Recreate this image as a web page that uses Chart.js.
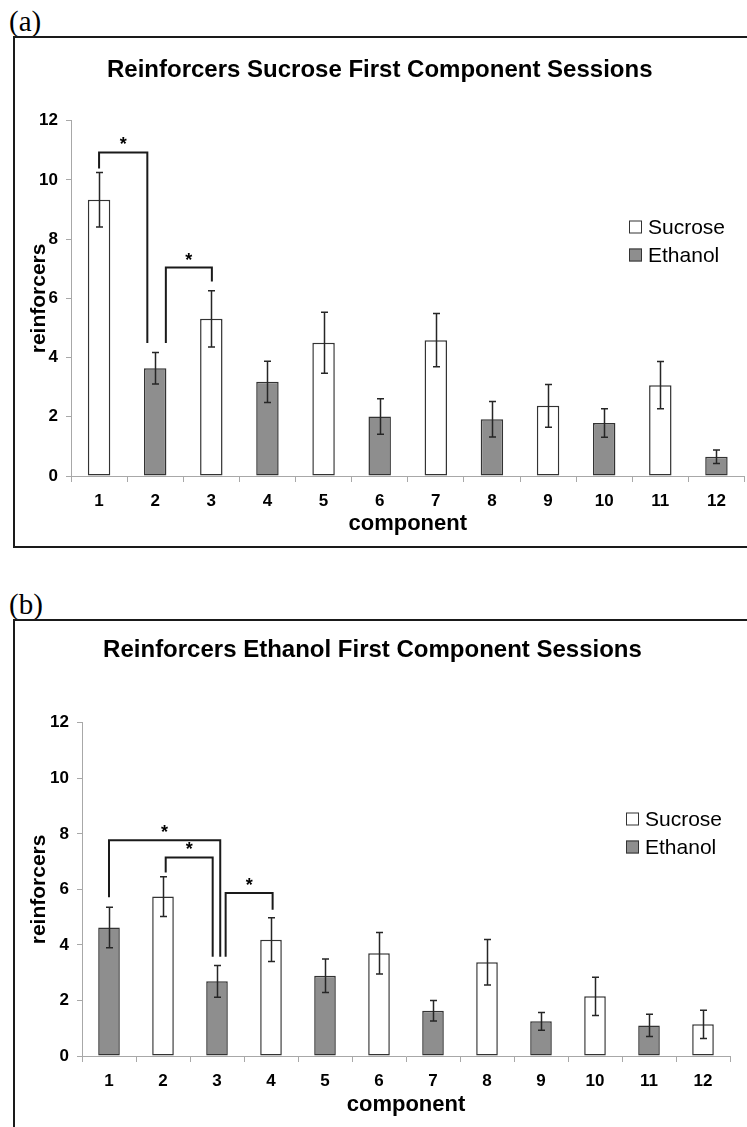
<!DOCTYPE html>
<html>
<head>
<meta charset="utf-8">
<script src="https://cdn.jsdelivr.net/npm/chart.js@4.4.0/dist/chart.umd.min.js"></script>
<style>
  body { margin: 0; background: #fff; width: 747px; height: 1127px; overflow: hidden; position: relative; }
  .tag { position: absolute; left: 9px; font-family: "Liberation Serif", "Times New Roman", serif; font-size: 29px; line-height: 1; color: #000; }
  .frame { position: absolute; left: 13px; width: 780px; border: 2px solid #1a1a1a; box-sizing: border-box; }
  .box { position: absolute; left: 15px; width: 732px; }
</style>
</head>
<body>
<div class="tag" style="top:7px">(a)</div>
<div class="frame" style="top:36px;height:512px"></div>
<div class="box" style="top:38px;height:508px"><canvas id="chartA"></canvas></div>

<div class="tag" style="top:590px">(b)</div>
<div class="frame" style="top:619px;height:540px"></div>
<div class="box" style="top:621px;height:506px"><canvas id="chartB"></canvas></div>

<script>
const components = ['1', '2', '3', '4', '5', '6', '7', '8', '9', '10', '11', '12'];
const yTicks = [0, 2, 4, 6, 8, 10, 12];

// (a) sucrose first component sessions
const sucroseA = [9.33, null, 5.31, null, 4.50, null, 4.59, null, 2.37, null, 3.07, null];
const ethanolA = [null, 3.64, null, 3.18, null, 2.01, null, 1.92, null, 1.79, null, 0.65];
const errA = [0.92, 0.53, 0.95, 0.70, 1.03, 0.60, 0.90, 0.60, 0.72, 0.48, 0.80, 0.23];
// significance brackets: [x left, y left end, x right, y right end, y top] (category index, reinforcers)
const bracketsA = [[0, 10.39, 0.86, 4.49, 10.93], [1.19, 4.49, 2.01, 6.57, 7.04]];

// (b) ethanol first component sessions
const sucroseB = [null, 5.74, null, 4.19, null, 3.70, null, 3.38, null, 2.15, null, 1.14];
const ethanolB = [4.63, null, 2.69, null, 2.89, null, 1.63, null, 1.25, null, 1.10, null];
const errB = [0.73, 0.72, 0.57, 0.79, 0.60, 0.75, 0.37, 0.82, 0.32, 0.69, 0.40, 0.51];
const bracketsB = [[0, 5.72, 2.06, 3.57, 7.77], [1.05, 6.61, 1.92, 3.57, 7.15], [2.16, 3.57, 3.03, 5.27, 5.87]];

const FONT = "'Liberation Sans', Arial, Helvetica, sans-serif";
Chart.defaults.font.family = FONT;
Chart.defaults.color = '#000';

const overlay = (err, brackets, legendAt) => ({
    id: 'overlay',
    afterDatasetsDraw(chart) {
        const {ctx} = chart;
        const x = chart.scales.x, y = chart.scales.y;
        ctx.save();
        // error bars
        ctx.strokeStyle = '#262626';
        ctx.lineWidth = 1.5;
        chart.data.datasets.forEach(ds => ds.data.forEach((v, i) => {
            if (v == null) return;
            const px = Math.round(x.getPixelForValue(i)) + 0.5;
            const top = y.getPixelForValue(v + err[i]);
            const bot = y.getPixelForValue(v - err[i]);
            ctx.beginPath();
            ctx.moveTo(px, top); ctx.lineTo(px, bot);
            ctx.moveTo(px - 3.5, top); ctx.lineTo(px + 3.5, top);
            ctx.moveTo(px - 3.5, bot); ctx.lineTo(px + 3.5, bot);
            ctx.stroke();
        }));
        // brackets + stars
        ctx.strokeStyle = '#1a1a1a';
        ctx.lineWidth = 2;
        ctx.fillStyle = '#000';
        ctx.font = 'bold 18px ' + FONT;
        ctx.textAlign = 'center';
        ctx.textBaseline = 'middle';
        brackets.forEach(([x1, y1, x2, y2, yt]) => {
            const a = x.getPixelForValue(x1), b = x.getPixelForValue(x2), t = y.getPixelForValue(yt);
            ctx.beginPath();
            ctx.moveTo(a, y.getPixelForValue(y1));
            ctx.lineTo(a, t);
            ctx.lineTo(b, t);
            ctx.lineTo(b, y.getPixelForValue(y2));
            ctx.stroke();
            ctx.fillText('*', (a + b) / 2, t - 7);
        });
        // legend
        ctx.font = '21px ' + FONT;
        ctx.textAlign = 'left';
        ctx.lineWidth = 1;
        chart.data.datasets.forEach((ds, k) => {
            const cy = legendAt.y + k * 28;
            ctx.fillStyle = ds.backgroundColor;
            ctx.fillRect(legendAt.x, cy - 6.5, 13, 13);
            ctx.strokeStyle = '#333';
            ctx.strokeRect(legendAt.x + 0.5, cy - 6, 12, 12);
            ctx.fillStyle = '#000';
            ctx.fillText(ds.label, legendAt.x + 19, cy + 1);
        });
        ctx.restore();
    }
});

const makeChart = (id, title, sucrose, ethanol, err, brackets, dims) => {
    return new Chart(document.getElementById(id), {
        type: 'bar',
        data: {
            labels: components,
            datasets: [
                {label: 'Sucrose', data: sucrose, backgroundColor: '#ffffff'},
                {label: 'Ethanol', data: ethanol, backgroundColor: '#8e8e8e'}
            ]
        },
        options: {
            responsive: true,
            maintainAspectRatio: false,
            animation: false,
            layout: {padding: {left: 0, top: 0, right: dims.right, bottom: 0}},
            datasets: {
                bar: {
                    skipNull: true,
                    barPercentage: 0.4,
                    categoryPercentage: 1,
                    borderColor: '#333333',
                    borderWidth: 1.5,
                    borderSkipped: false
                }
            },
            plugins: {
                legend: {display: false},
                tooltip: {enabled: false},
                title: {
                    display: true,
                    text: title,
                    font: {size: 24, weight: 'bold'},
                    color: '#000',
                    padding: {top: dims.titleTop, bottom: dims.titleBottom}
                }
            },
            scales: {
                x: {
                    afterFit: s => { s.height = dims.xHeight; },
                    border: {color: '#a8a8a8', width: 1},
                    grid: {drawOnChartArea: false, drawTicks: true, tickLength: 6, color: '#a8a8a8'},
                    ticks: {font: {size: 17, weight: 'bold'}, padding: 9, color: '#000'},
                    title: {display: true, text: 'component', font: {size: 22, weight: 'bold'}, color: '#000', padding: {top: 0, bottom: 9}}
                },
                y: {
                    min: 0,
                    max: 12,
                    afterFit: s => { s.width = dims.yWidth; },
                    afterBuildTicks: s => { s.ticks = yTicks.map(v => ({value: v})); },
                    border: {color: '#a8a8a8', width: 1},
                    grid: {drawOnChartArea: false, drawTicks: true, tickLength: 5, color: '#a8a8a8'},
                    ticks: {font: {size: 17, weight: 'bold'}, padding: 8, color: '#000'},
                    title: {display: true, text: 'reinforcers', font: {size: 21, weight: 'bold'}, color: '#000', padding: {top: 12, bottom: 0}}
                }
            }
        },
        plugins: [overlay(err, brackets, dims.legend)]
    });
};

makeChart('chartA', 'Reinforcers Sucrose First Component Sessions', sucroseA, ethanolA, errA, bracketsA,
    {right: 2.5, titleTop: 18, titleBottom: 36, xHeight: 70, yWidth: 56, legend: {x: 614, y: 189}});
makeChart('chartB', 'Reinforcers Ethanol First Component Sessions', sucroseB, ethanolB, errB, bracketsB,
    {right: 17, titleTop: 15, titleBottom: 58, xHeight: 71, yWidth: 67, legend: {x: 611, y: 198}});
</script>
</body>
</html>
